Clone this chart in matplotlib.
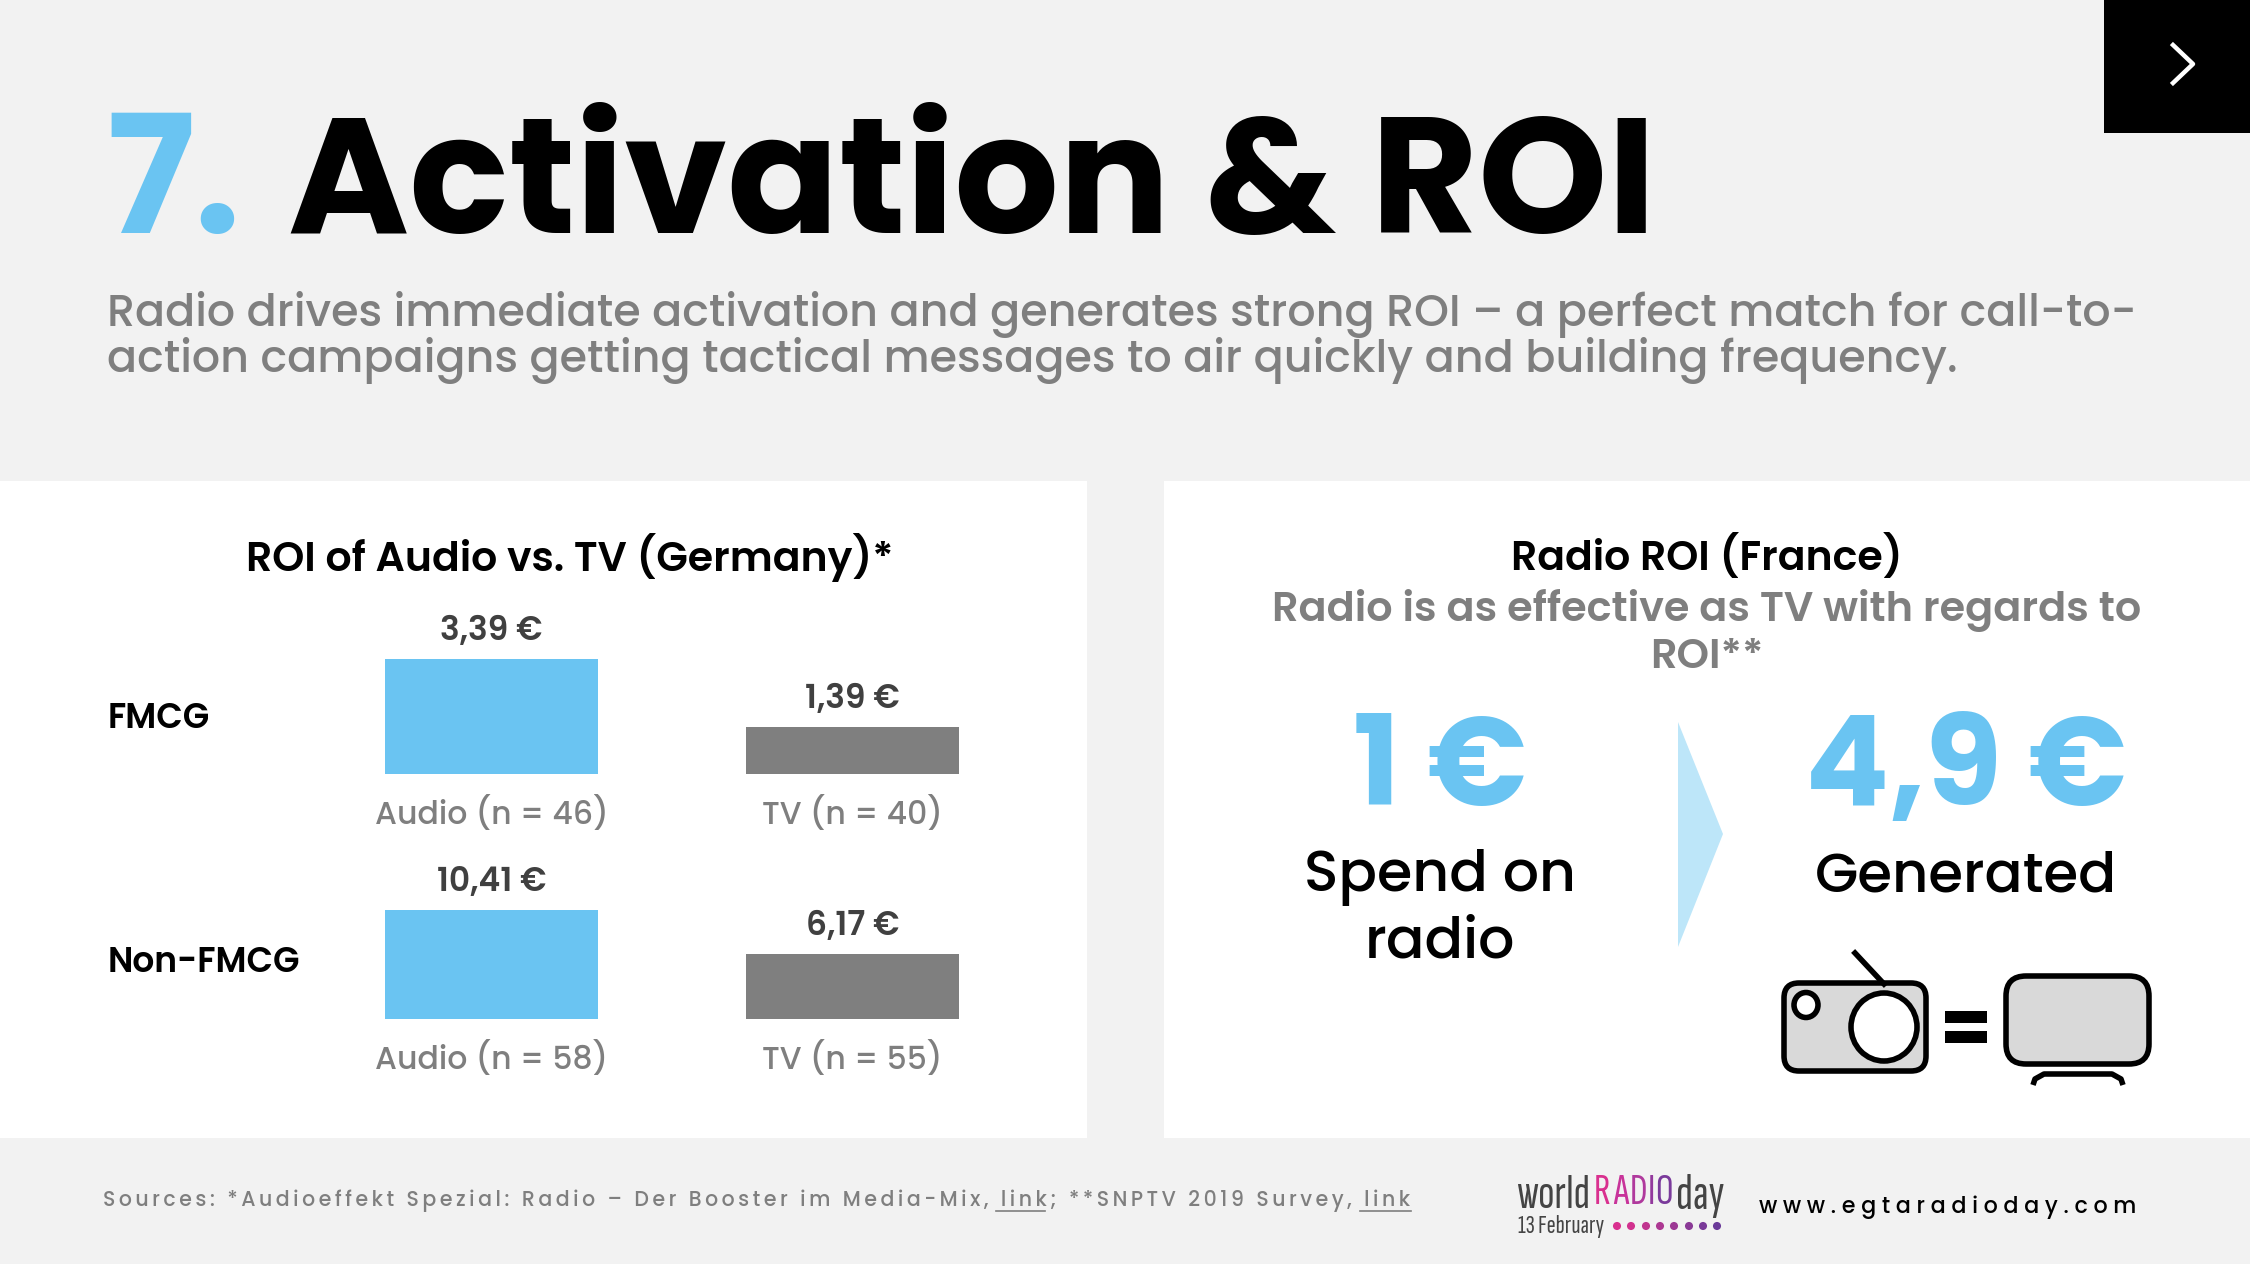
#!/usr/bin/env python3
import numpy as np
import matplotlib
matplotlib.use("Agg")
import matplotlib.pyplot as plt
from matplotlib.patches import Rectangle, Polygon, FancyBboxPatch, Ellipse

# Montserrat is only there as a thin variable font, Poppins has real weights
plt.rcParams.update({
    "font.family": ["Poppins", "Inter", "DejaVu Sans"],
    "axes.unicode_minus": False,
})

W, H = 2250, 1264
BLUE = "#6ac4f2"
GREY = "#7f7f7f"
DARK = "#404040"
BG = "#f2f2f2"
ICON = "#d9d9d9"

# ── data ──────────────────────────────────────────────
groups = ["FMCG", "Non-FMCG"]
channels = ["Audio", "TV"]
fmcg_roi = [3.39, 1.39]
non_fmcg_roi = [10.41, 6.17]
fmcg_labels = ["Audio (n = 46)", "TV (n = 40)"]
non_fmcg_labels = ["Audio (n = 58)", "TV (n = 55)"]
fmcg_values = ["3,39 €", "1,39 €"]
non_fmcg_values = ["10,41 €", "6,17 €"]

fig = plt.figure(figsize=(W / 100, H / 100), dpi=100, facecolor=BG)
bg = fig.add_axes([0, 0, 1, 1])
bg.set_xlim(0, W); bg.set_ylim(H, 0); bg.axis("off")


def put(x, y, s, px, color="black", weight="normal", ha="center", **kw):
    return bg.text(x, y, s, fontsize=px * 0.72, color=color, weight=weight,
                   ha=ha, va="center", **kw)


def spaced(s, n=1):
    return ("\u200a" * n).join(s)


# ── panels + corner button ────────────────────────────
bg.add_patch(Rectangle((0, 481), 1087, 657, fc="white", ec="none"))
bg.add_patch(Rectangle((1164, 481), 1086, 657, fc="white", ec="none"))
bg.add_patch(Rectangle((2104, 0), 146, 133, fc="black", ec="none"))
bg.plot([2173, 2193, 2173], [45, 64, 83], color="white", lw=3.2)

# ── header ────────────────────────────────────────────
put(106, 194, "7.", 164.5, BLUE, "bold", ha="left")
put(288, 194, "Activation & ROI", 164.5, "black", "bold", ha="left")
put(107, 315, "Radio drives immediate activation and generates strong ROI – a perfect match for call-to-",
    44.4, GREY, "medium", ha="left")
put(107, 360, "action campaigns getting tactical messages to air quickly and building frequency.",
    44.4, GREY, "medium", ha="left")

# ── left panel ────────────────────────────────────────
put(570, 557, "ROI of Audio vs. TV (Germany)*", 41, "black", "semibold")
put(108, 720, groups[0], 34.5, "black", "semibold", ha="left")
put(108, 964, groups[1], 34.5, "black", "semibold", ha="left")


def bars(top, bottom, vals, value_txt, labels):
    ax = fig.add_axes([385 / W, 1 - bottom / H, 574 / W, (bottom - top) / H])
    ax.patch.set_alpha(0)
    x = np.arange(len(vals))
    ax.bar(x, vals, width=0.59, color=[BLUE, GREY])
    ax.set_xlim(-0.295, 1.295)
    ax.set_ylim(0, max(vals))
    ax.axis("off")
    for i, v in enumerate(vals):
        ax.annotate(value_txt[i], (i, v), xytext=(0, 27 * 0.72), textcoords="offset points",
                    ha="center", va="center", fontsize=33 * 0.72, color=DARK, weight="semibold",
                    annotation_clip=False)
        ax.annotate(labels[i], (i, 0), xytext=(0, -40 * 0.72), textcoords="offset points",
                    ha="center", va="center", fontsize=31.5 * 0.72, color=GREY, weight="medium",
                    annotation_clip=False)


bars(659, 774, fmcg_roi, fmcg_values, fmcg_labels)
bars(910, 1019, non_fmcg_roi, non_fmcg_values, non_fmcg_labels)

# ── right panel ───────────────────────────────────────
put(1707, 558, "Radio ROI (France)", 41, "black", "semibold")
put(1707, 610, "Radio is as effective as TV with regards to", 41.4, GREY, "semibold")
put(1707, 659, "ROI**", 41.4, GREY, "semibold")

put(1440, 775, "1 €", 126, BLUE, "bold")
put(1966, 775, "4,9 €", 124.5, BLUE, "bold")
put(1440, 878, "Spend on", 57, "black", "medium")
put(1440, 944, "radio", 57, "black", "medium")
put(1966, 878, "Generated", 56, "black", "medium")

bg.add_patch(Polygon([(1678, 722), (1723, 834), (1678, 947)], fc="#bde6f9", ec="none"))

# radio icon
lw = 4.0
bg.plot([1855, 1884], [953, 984], color="black", lw=lw)
bg.add_patch(FancyBboxPatch((1799, 998), 112, 58, boxstyle="round,pad=15,rounding_size=15",
                            fc=ICON, ec="black", lw=lw))
bg.add_patch(Ellipse((1884, 1027), 66, 68, fc="white", ec="black", lw=lw))
bg.add_patch(Ellipse((1806, 1005), 24, 25, fc="white", ec="black", lw=lw))
# equals sign
bg.add_patch(Rectangle((1945, 1011), 42, 12, fc="black", ec="none"))
bg.add_patch(Rectangle((1945, 1031), 42, 12, fc="black", ec="none"))
# tv icon
bg.add_patch(FancyBboxPatch((2026, 996), 103, 48, boxstyle="round,pad=20,rounding_size=20",
                            fc=ICON, ec="black", lw=lw))
bg.plot([2033, 2035, 2044, 2112, 2121, 2123], [1085, 1079, 1074, 1074, 1079, 1085],
        color="black", lw=lw, solid_capstyle="butt")

# ── footer ────────────────────────────────────────────
source = spaced("Sources: *Audioeffekt Spezial: Radio – Der Booster im Media-Mix, link; **SNPTV 2019 Survey, link", 2)
put(103, 1201, source, 20.5, GREY, "medium", ha="left")
bg.plot([996, 1045], [1211, 1211], color=GREY, lw=1.2)
bg.plot([1360, 1411], [1211, 1211], color=GREY, lw=1.2)
put(1948, 1207, spaced("www.egtaradioday.com", 3), 22.2, "black", "medium")

# logo
NARROW = ["Ubuntu Condensed", "Sofia Sans Extra Condensed", "DejaVu Sans"]
put(1516, 1196, "world", 48, "#444444", ha="left", family=NARROW)
for ch, x, c in zip("RADIO", [1594, 1613, 1630, 1648, 1655],
                    ["#d9308f", "#c8339a", "#b0399d", "#93399d", "#7a3a9b"]):
    put(x, 1193, ch, 44, c, ha="left", family=NARROW)
put(1676, 1196, "day", 50, "#444444", ha="left", family=NARROW)
put(1518, 1227, "13 February", 27, "#444444", ha="left", family=NARROW)
dots_x = [1617, 1631, 1646, 1660, 1674, 1689, 1703, 1717]
dots_c = ["#d9308f", "#d2328f", "#c0358f", "#ad3892", "#9c3994", "#8a3a96", "#793a98", "#6a3a98"]
bg.scatter(dots_x, [1226] * 8, s=34, c=dots_c, linewidths=0)

fig.savefig("out.png", dpi=100, facecolor=BG)
